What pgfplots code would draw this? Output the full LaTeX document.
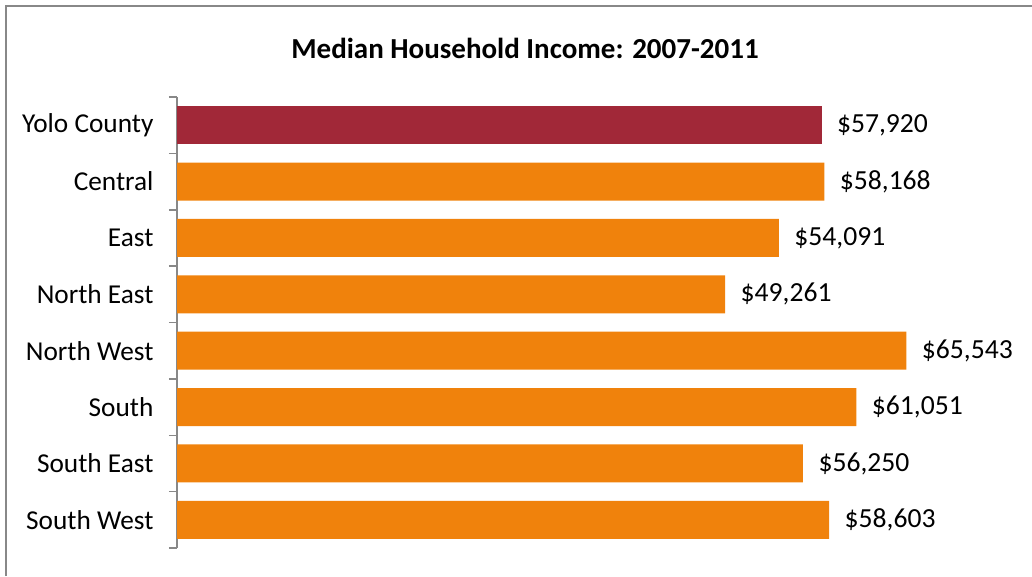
\documentclass[border=0pt]{standalone}
\usepackage{fontspec}
\setmainfont{Carlito}
\usepackage{pgfplots}
\pgfplotsset{compat=1.18}
\definecolor{yolo}{RGB}{161,40,56}
\definecolor{orng}{RGB}{240,130,12}
\definecolor{axgray}{RGB}{136,136,136}
\begin{document}
\begin{tikzpicture}[x=1pt,y=1pt]
\useasboundingbox (0,0) rectangle (1032,576);
\draw[axgray, line width=2pt] (6,0) -- (6,570) -- (1032,570);
\node[font=\fontsize{29}{34}\selectfont\bfseries] at (525,528) {Median Household Income: 2007-2011};
\begin{axis}[
  at={(177pt,28pt)}, anchor=south west,
  scale only axis, width=779pt, height=451pt,
  xmin=0, xmax=70000, ymin=0.5, ymax=8.5, y dir=reverse,
  axis x line=none, axis y line*=left,
  y axis line style={axgray, line width=1.5pt, -},
  ytick={1,...,8},
  yticklabels={Yolo County, Central, East, North East, North West, South, South East, South West},
  minor ytick={0.5,1.5,...,8.5},
  major tick length=0pt, minor tick length=8pt, tick align=outside,
  minor tick style={axgray, line width=1.5pt},
  major tick style={draw=none},
  yticklabel style={font=\fontsize{27.3}{32}\selectfont, xshift=-20pt},
  xbar, bar width=38pt, bar shift=0pt,
  clip=false,
  point meta=x,
  nodes near coords={\$\pgfmathprintnumber[assume math mode=true,1000 sep={,},fixed,precision=0]{\pgfplotspointmeta}},
  every node near coord/.append style={font=\fontsize{27.6}{32}\selectfont, anchor=west, xshift=12pt, text=black},
]
\addplot[fill=yolo, draw=none] coordinates {(57920,1)};
\addplot[fill=orng, draw=none] coordinates {(58168,2) (54091,3) (49261,4) (65543,5) (61051,6) (56250,7) (58603,8)};
\end{axis}
\end{tikzpicture}
\end{document}
